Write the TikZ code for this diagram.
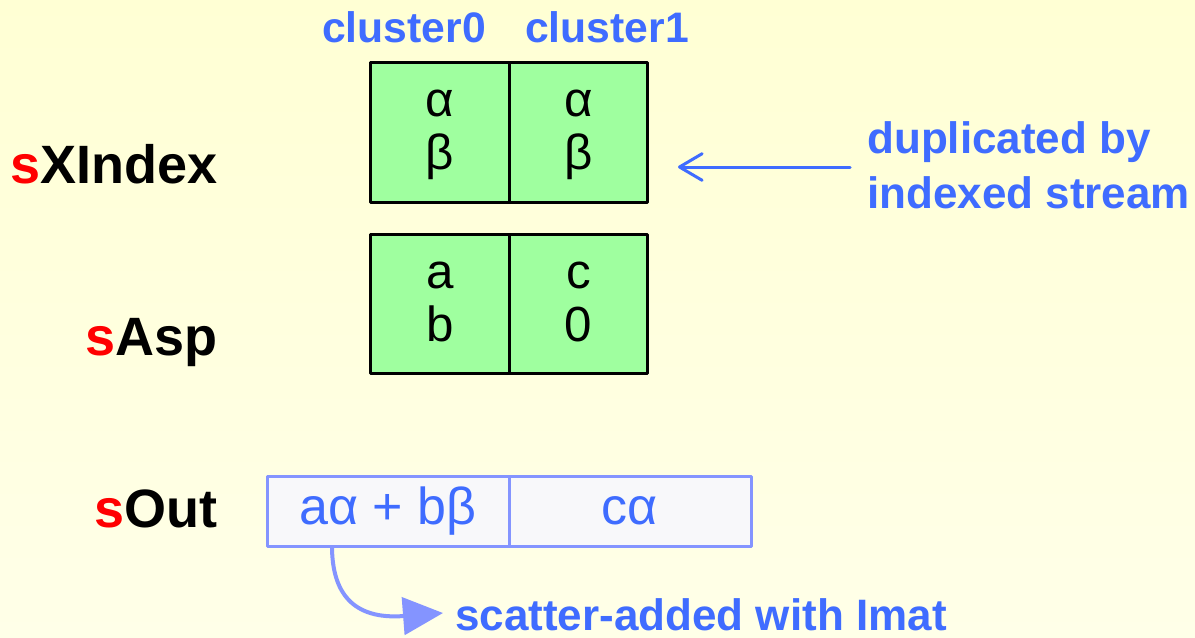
\documentclass[tikz,border=0pt]{standalone}
\usepackage{fontspec}
\setmainfont{Liberation Sans}
\usetikzlibrary{arrows.meta}
\definecolor{bgtop}{HTML}{FFFFD4}
\definecolor{bgbot}{HTML}{FFFFE8}
\definecolor{cellgreen}{HTML}{9FFF9F}
\definecolor{annblue}{HTML}{3F6CFF}
\definecolor{outedge}{HTML}{8494FF}
\definecolor{outfill}{HTML}{F8F8FA}
\definecolor{sred}{HTML}{FF0000}
\begin{document}
\begin{tikzpicture}[x=0.75pt,y=-0.75pt,
  greencell/.style={draw=black, line width=2.25pt, fill=cellgreen, minimum width=103.8pt, minimum height=104.5pt, inner sep=0pt, outer sep=0pt, align=center, font=\fontsize{37}{40}\selectfont, line join=round},
  outcell/.style={draw=outedge, line width=2.25pt, fill=outfill, minimum width=181.5pt, minimum height=52.5pt, inner sep=0pt, outer sep=0pt, text=annblue, font=\fontsize{39}{44}\selectfont, line join=round},
  rowlabel/.style={anchor=base east, inner sep=0pt, font=\fontsize{40.5}{48}\selectfont\bfseries},
  anntext/.style={anchor=base west, inner sep=0pt, text=annblue, font=\fontsize{33}{38}\selectfont\bfseries},
  coltext/.style={anntext, font=\fontsize{32}{38}\selectfont\bfseries},
  dupline/.style={draw=annblue, line width=2.25pt, line cap=round, -{Straight Barb[length=17pt,width=20pt,round]}},
  scatline/.style={draw=outedge, line width=3pt, -{Triangle[length=30pt,width=28pt]}}
]
\useasboundingbox (0,0) rectangle (1195,637);
\fill[top color=bgtop,bottom color=bgbot] (0,0) rectangle (1195,637);

% column labels
\node[coltext] (cl0) at (322,42) {cluster0};
\node[coltext] (cl1) at (525,42) {cluster1};

% row labels
\node[rowlabel] (lx) at (218,183) {\textcolor{sred}{s}XIndex};
\node[rowlabel] (la) at (218,355) {\textcolor{sred}{s}Asp};
\node[rowlabel] (lo) at (218,527) {\textcolor{sred}{s}Out};

% sXIndex cells
\node[greencell] (x0) at (440,132.5) {\strut α\\\strut β};
\node[greencell] (x1) at (578.5,132.5) {\strut α\\\strut β};
% sAsp cells
\node[greencell] (a0) at (440,304) {\strut a\\\strut b};
\node[greencell] (a1) at (578.5,304) {\strut c\\\strut 0};

% sOut cells
\node[outcell] (o0) at (388,511) {aα + bβ};
\node[outcell] (o1) at (630,511) {cα};

% annotation: duplicated
\node[anntext] (dup1) at (867,153) {duplicated by};
\node[anntext] (dup2) at (867,208) {indexed stream};
\coordinate (dupA) at (850,167);
\coordinate (dupB) at (678,167);
\draw[dupline] (dupA) -- (dupB);

% annotation: scatter
\node[anntext] (scat) at (455,630) {scatter-added with Imat};
\coordinate (cs) at (332,546);
\coordinate (ce) at (443,613);
\draw[scatline] (cs) .. controls (332,592) and (352,620) .. (ce);
\end{tikzpicture}
\end{document}
